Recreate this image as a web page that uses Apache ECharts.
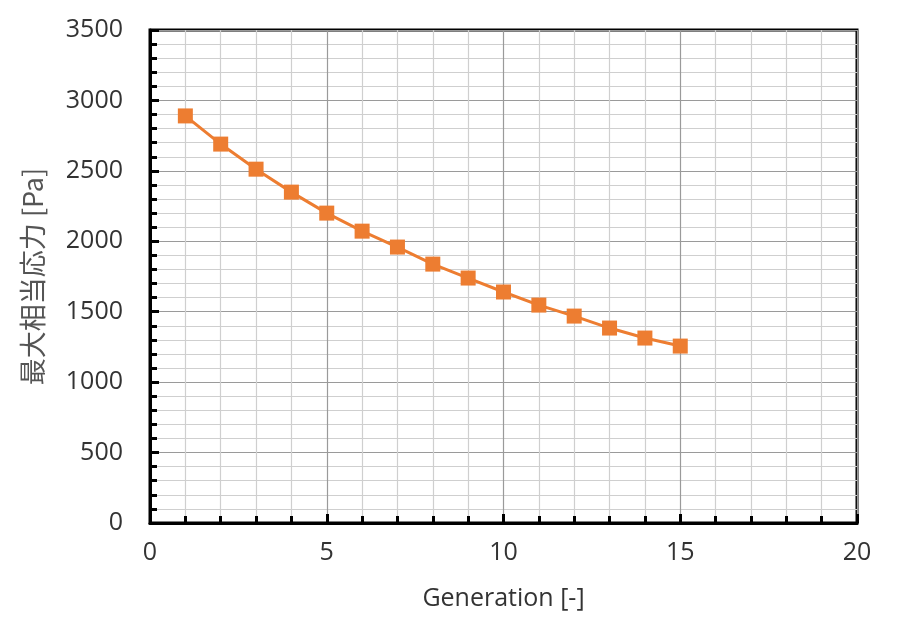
<!DOCTYPE html>
<html>
<head>
<meta charset="utf-8">
<script src="https://cdn.jsdelivr.net/npm/echarts@6/dist/echarts.min.js"></script>
<style>html,body{margin:0;padding:0;background:#fff}#c{width:900px;height:619px}</style>
</head>
<body>
<div id="c"></div>
<script>
const generations = [1,2,3,4,5,6,7,8,9,10,11,12,13,14,15];
const stress = [2890,2690,2512,2349,2200,2072,1959,1838,1739,1640,1547,1469,1384,1313,1256];
const xTitle = 'Generation [-]';
const yTitle = '最大相当応力 [Pa]';

const font = '"Open Sans","Noto Sans CJK JP",sans-serif';
const cjkFont = '"Noto Sans CJK JP","Open Sans",sans-serif';
const chart = echarts.init(document.getElementById('c'));
chart.setOption({
  animation: false,
  grid: {left: 150, right: 43, top: 30, bottom: 96, show: true, borderColor: '#000', borderWidth: 3, backgroundColor: '#fff'},
  xAxis: {
    type: 'value', min: 0, max: 20, interval: 5,
    name: xTitle, nameLocation: 'middle', nameGap: 63,
    nameTextStyle: {fontSize: 25, color: '#333', fontFamily: font},
    axisLine: {lineStyle: {color: '#000', width: 3}},
    axisTick: {inside: true, length: 9, lineStyle: {color: '#000', width: 3}},
    minorTick: {show: true, splitNumber: 5, length: 7, lineStyle: {color: '#000', width: 3}},
    axisLabel: {fontSize: 25, color: '#333', margin: 17, fontFamily: font, formatter: v => String(v)},
    splitLine: {show: true, lineStyle: {color: '#9a9a9a', width: 1.2}},
    minorSplitLine: {show: true, lineStyle: {color: '#cfcfcf', width: 1.2}}
  },
  yAxis: {
    type: 'value', min: 0, max: 3500, interval: 500,
    name: yTitle, nameLocation: 'middle', nameGap: 104, nameRotate: 90,
    nameTextStyle: {fontSize: 27, color: '#555', fontFamily: cjkFont},
    axisLine: {lineStyle: {color: '#000', width: 3}},
    axisTick: {inside: true, length: 9, lineStyle: {color: '#000', width: 3}},
    minorTick: {show: true, splitNumber: 5, length: 7, lineStyle: {color: '#000', width: 3}},
    axisLabel: {fontSize: 25, color: '#333', margin: 27, fontFamily: font, formatter: v => String(v)},
    splitLine: {show: true, lineStyle: {color: '#9a9a9a', width: 1.2}},
    minorSplitLine: {show: true, lineStyle: {color: '#cfcfcf', width: 1.2}}
  },
  series: [{
    type: 'line',
    data: generations.map((g, i) => [g, stress[i]]),
    symbol: 'rect', symbolSize: 15,
    lineStyle: {color: '#ED7D31', width: 3},
    itemStyle: {color: '#ED7D31'}
  }]
});
</script>
</body>
</html>
